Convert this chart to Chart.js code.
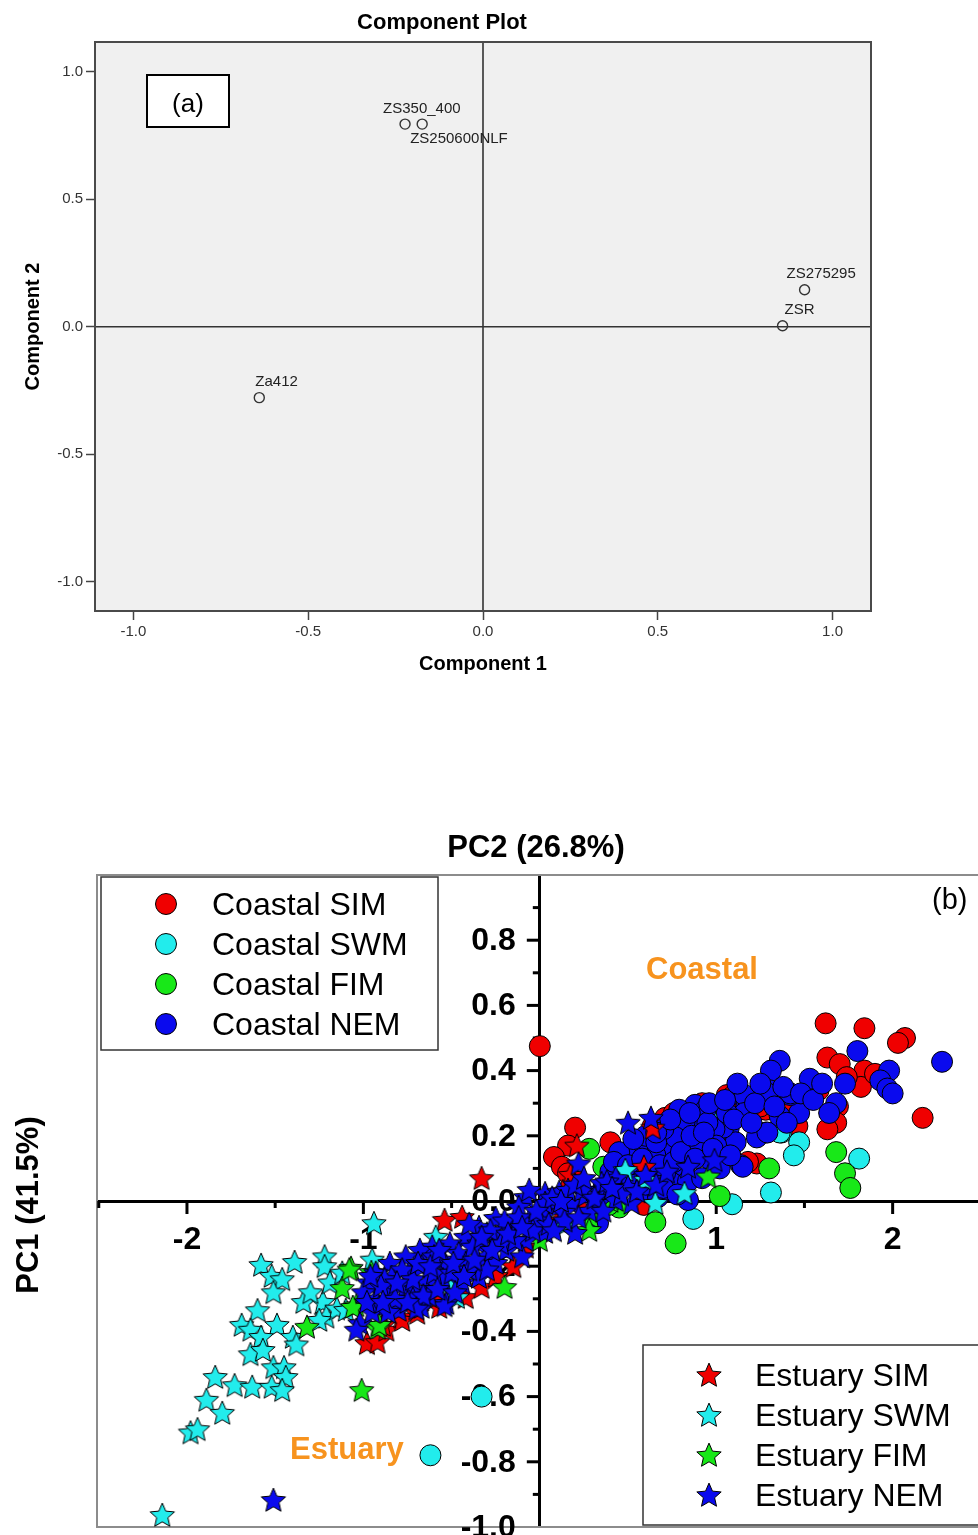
<!DOCTYPE html>
<html><head><meta charset="utf-8">
<script src="https://cdn.jsdelivr.net/npm/chart.js@4.4.0/dist/chart.umd.min.js"></script>
<style>
html,body{margin:0;padding:0;background:#fff;width:978px;height:1535px;overflow:hidden;position:relative;}
#ca{position:absolute;left:0;top:0;}
#cb{position:absolute;left:0;top:820px;}
</style></head><body>
<canvas id="ca" width="884" height="700" style="width:884px;height:700px"></canvas>
<canvas id="cb" width="1010" height="740" style="width:1010px;height:740px"></canvas>
<script>
// ================= Chart (a) data =================
const loadingNames = ['ZS350_400','ZS250600NLF','ZS275295','ZSR','Za412'];
const component1 = [-0.223,-0.174,0.920,0.857,-0.640];
const component2 = [0.795,0.795,0.145,0.004,-0.278];
const axisTicksA = [-1.0,-0.5,0.0,0.5,1.0];

// ================= Chart (b) data =================
const seriesNames = ['Coastal SIM','Coastal SWM','Coastal FIM','Coastal NEM','Estuary SIM','Estuary SWM','Estuary FIM','Estuary NEM'];
const xTickLabelsB = [-2,-1,1,2];
const yTickLabelsB = [0.8,0.6,0.4,0.2,0.0,-0.2,-0.4,-0.6,-0.8,-1.0];

const coastalSIM = [[0.00,0.475],[1.62,0.545],[1.84,0.53],[2.07,0.50],[2.03,0.485],[1.63,0.44],[1.70,0.42],[1.84,0.40],[1.82,0.35],[1.58,0.34],[1.50,0.31],[1.69,0.29],[1.68,0.24],[1.63,0.22],[2.17,0.255],[1.06,0.325],[1.09,0.32],[1.28,0.28],[1.46,0.23],[1.23,0.115],[0.71,0.255],[0.64,0.23],[0.40,0.18],[0.20,0.225],[0.16,0.17],[0.08,0.135],[0.125,0.105],[0.16,0.085],[0.59,-0.012],[1.74,0.38],[1.90,0.39],[1.25,0.29],[0.92,0.30],[1.00,0.25],[0.55,0.10],[0.76,0.27],[1.40,0.30],[1.18,0.12]];
const coastalSWM = [[1.02,0.285],[1.37,0.21],[1.47,0.18],[1.44,0.14],[1.81,0.13],[1.31,0.026],[1.09,-0.01],[0.87,-0.055],[-0.33,-0.60],[-0.62,-0.78],[1.36,0.21]];
const coastalFIM = [[0.28,0.16],[0.36,0.105],[1.02,0.015],[1.30,0.10],[0.655,-0.065],[0.45,-0.02],[1.68,0.15],[1.73,0.085],[1.76,0.04],[0.77,-0.13],[0.39,-0.012]];
const coastalNEM = [[2.28,0.427],[1.80,0.46],[1.98,0.40],[1.93,0.37],[1.97,0.345],[2.00,0.33],[1.36,0.43],[1.31,0.40],[1.53,0.375],[1.73,0.36],[1.68,0.30],[1.47,0.27],[1.30,0.34],[1.42,0.325],[1.15,0.32],[1.17,0.29],[1.13,0.26],[1.28,0.21],[1.07,0.22],[1.11,0.18],[0.88,0.295],[0.79,0.28],[0.94,0.28],[1.04,0.225],[0.88,0.23],[0.82,0.24],[0.73,0.16],[0.56,0.165],[0.49,0.14],[0.655,0.14],[0.89,0.18],[0.99,0.22],[1.14,0.11],[1.23,0.195],[0.82,0.105],[0.97,0.125],[0.75,0.055],[0.84,0.003],[0.71,0.085],[0.63,0.08],[0.56,0.085],[0.43,0.065],[0.62,0.025],[0.67,0.012],[0.45,0.15],[0.77,0.195],[0.90,0.18],[1.15,0.105],[0.46,0.10],[0.33,-0.068],[1.16,0.325],[1.16,0.27],[1.36,0.26],[1.29,0.33],[1.42,0.33],[1.29,0.21],[0.52,0.05],[0.38,0.02],[0.60,0.20],[0.70,0.22],[1.00,0.17],[1.06,0.27],[0.95,0.24],[0.66,0.18],[0.84,0.06],[0.36,0.04],[0.40,0.09],[0.42,0.12],[0.50,0.11],[0.53,0.19],[0.58,0.13],[0.60,0.05],[0.66,0.21],[0.68,0.11],[0.70,0.04],[0.74,0.25],[0.76,0.12],[0.78,0.02],[0.80,0.15],[0.85,0.27],[0.86,0.20],[0.88,0.13],[0.92,0.07],[0.93,0.21],[0.96,0.30],[0.98,0.16],[1.02,0.10],[1.05,0.31],[1.08,0.14],[1.10,0.25],[1.12,0.36],[1.20,0.24],[1.22,0.30],[1.25,0.36],[1.33,0.29],[1.38,0.35],[1.40,0.24],[1.48,0.33],[1.55,0.31],[1.60,0.36],[1.64,0.27]];
const estuarySIM = [[-0.33,0.07],[-0.54,-0.058],[-0.44,-0.049],[0.21,0.17],[0.64,0.225],[0.59,0.105],[0.175,0.08],[0.24,-0.02],[-0.98,-0.436],[-0.92,-0.432],[-0.87,-0.395],[-0.785,-0.355],[-0.695,-0.343],[-0.78,-0.365],[-0.42,-0.295],[-0.08,-0.14],[-0.33,-0.264],[-0.57,-0.325],[-0.89,-0.38],[0.13,0.03],[-0.15,-0.20],[-0.60,-0.30],[0.10,-0.06],[-0.25,-0.23]];
const estuarySWM = [[-0.94,-0.068],[-1.58,-0.196],[-1.39,-0.187],[-1.22,-0.17],[-1.22,-0.20],[-1.52,-0.23],[-1.46,-0.24],[-1.51,-0.28],[-1.34,-0.31],[-1.23,-0.31],[-1.21,-0.355],[-1.19,-0.25],[-1.60,-0.335],[-1.69,-0.38],[-1.64,-0.395],[-1.49,-0.38],[-1.58,-0.417],[-1.40,-0.417],[-1.38,-0.44],[-1.64,-0.47],[-1.57,-0.457],[-1.51,-0.51],[-1.45,-0.51],[-1.44,-0.54],[-1.84,-0.54],[-1.73,-0.565],[-1.63,-0.57],[-1.52,-0.57],[-1.46,-0.58],[-1.89,-0.61],[-1.80,-0.65],[-1.98,-0.71],[-1.94,-0.70],[-2.14,-0.963],[-1.15,-0.33],[-1.25,-0.365],[-0.47,-0.295],[-0.59,-0.11],[-0.51,-0.25],[0.15,-0.068],[-1.10,-0.334],[-0.95,-0.18],[0.485,0.095],[0.60,0.065],[0.655,-0.006],[0.82,0.024],[0.125,-0.068],[-1.30,-0.28],[-1.12,-0.22]];
const estuaryFIM = [[-1.07,-0.205],[-0.955,-0.218],[-1.12,-0.267],[-1.04,-0.32],[-1.32,-0.386],[-0.92,-0.39],[-1.01,-0.58],[-0.20,-0.264],[-1.08,-0.21],[-1.06,-0.325],[-0.91,-0.38],[0.955,0.075],[0.29,-0.05],[0.28,-0.089],[0.125,0.003],[0.00,-0.12],[0.40,0.00],[-0.30,-0.10]];
const estuaryNEM = [[-0.08,0.012],[0.03,0.024],[0.11,0.028],[-0.12,-0.018],[-0.25,-0.052],[-0.345,-0.08],[-0.42,-0.11],[-0.51,-0.13],[-0.61,-0.14],[-0.68,-0.15],[-0.76,-0.17],[-0.85,-0.19],[-0.93,-0.22],[-0.84,-0.233],[-0.74,-0.22],[-0.67,-0.20],[-0.55,-0.18],[-0.46,-0.16],[-0.345,-0.13],[-0.25,-0.11],[-0.16,-0.09],[-0.06,-0.058],[0.01,-0.037],[0.09,-0.018],[0.18,-0.006],[0.03,-0.095],[-0.08,-0.12],[-0.19,-0.15],[-0.305,-0.17],[-0.42,-0.19],[-0.53,-0.20],[-0.345,-0.233],[-0.44,-0.25],[-0.55,-0.24],[-0.64,-0.25],[-0.76,-0.264],[-0.85,-0.28],[-0.93,-0.30],[-0.53,-0.313],[-0.67,-0.325],[-0.91,-0.325],[-1.02,-0.375],[-0.80,-0.334],[-1.04,-0.395],[-1.51,-0.917],[-0.54,-0.32],[0.50,0.24],[0.63,0.255],[0.22,0.115],[0.43,0.07],[0.50,0.043],[0.33,0.034],[0.26,0.018],[0.16,0.034],[0.03,-0.006],[0.135,-0.033],[0.33,-0.006],[0.43,0.003],[0.52,-0.006],[0.84,0.105],[0.99,0.125],[-0.06,0.034],[0.24,0.034],[0.35,0.055],[0.20,-0.098],[-0.97,-0.25],[-0.88,-0.24],[-0.70,-0.27],[-0.60,-0.22],[-0.20,-0.06],[-0.40,-0.07],[0.00,-0.06],[-0.10,-0.17],[-0.25,-0.19],[-1.00,-0.28],[-0.95,-0.34],[-0.72,-0.30],[-0.63,-0.29],[-0.98,-0.31],[-0.90,-0.26],[-0.82,-0.30],[-0.78,-0.21],[-0.72,-0.24],[-0.66,-0.29],[-0.60,-0.17],[-0.58,-0.27],[-0.50,-0.22],[-0.48,-0.28],[-0.40,-0.21],[-0.38,-0.14],[-0.30,-0.21],[-0.28,-0.09],[-0.22,-0.13],[-0.14,-0.12],[-0.12,-0.05],[-0.04,-0.09],[0.05,-0.07],[0.07,0.01],[0.14,-0.06],[0.20,0.05],[0.28,-0.03],[0.38,0.06],[0.46,0.02],[-0.86,-0.34],[-0.70,-0.33],[-0.96,-0.23],[-0.89,-0.31],[-0.81,-0.25],[-0.75,-0.31],[-0.69,-0.19],[-0.62,-0.20],[-0.57,-0.15],[-0.49,-0.19],[-0.43,-0.23],[-0.37,-0.18],[-0.33,-0.11],[-0.27,-0.15],[-0.18,-0.10],[-0.10,-0.08],[-0.02,-0.03],[0.08,-0.09],[0.12,0.00],[0.22,-0.05],[0.25,0.07],[0.31,0.01],[0.36,-0.03],[0.41,0.04],[0.55,0.03],[0.60,0.08],[0.66,0.05],[0.72,0.09]];

const seriesColors = ['#f00000','#22ecec','#18e818','#0a0aee','#f00000','#22ecec','#18e818','#0a0aee'];
const seriesPoints = [coastalSIM,coastalSWM,coastalFIM,coastalNEM,estuarySIM,estuarySWM,estuaryFIM,estuaryNEM];
const seriesStar = [false,false,false,false,true,true,true,true];
const seriesOrder = [8,7,6,5,4,3,2,1];

const FONT = '"Liberation Sans", Arial, Helvetica, sans-serif';
Chart.defaults.font.family = FONT;

function makeStar(color, size, outerR, innerR) {
  const c = document.createElement('canvas');
  c.width = size; c.height = size;
  const g = c.getContext('2d');
  const cx = size / 2, cy = size / 2 + 0.9;
  g.beginPath();
  for (let i = 0; i < 10; i++) {
    const r = i % 2 ? innerR : outerR;
    const a = -Math.PI / 2 + i * Math.PI / 5;
    const px = cx + r * Math.cos(a), py = cy + r * Math.sin(a);
    if (i) g.lineTo(px, py); else g.moveTo(px, py);
  }
  g.closePath();
  g.fillStyle = color; g.fill();
  g.lineWidth = 1; g.strokeStyle = '#000'; g.lineJoin = 'miter'; g.stroke();
  return c;
}

// ================= Chart (a) =================
const decorA = {
  id: 'decorA',
  beforeDraw(chart) {
    const {ctx, chartArea: a} = chart;
    ctx.save();
    ctx.fillStyle = '#f0f0f0';
    ctx.fillRect(a.left, a.top, a.right - a.left, a.bottom - a.top);
    ctx.restore();
  },
  beforeDatasetsDraw(chart) {
    const {ctx, chartArea: a, scales: {x, y}} = chart;
    ctx.save();
    ctx.strokeStyle = '#333'; ctx.lineWidth = 1.6;
    const x0 = x.getPixelForValue(0), y0 = y.getPixelForValue(0);
    ctx.beginPath(); ctx.moveTo(x0, a.top); ctx.lineTo(x0, a.bottom); ctx.stroke();
    ctx.beginPath(); ctx.moveTo(a.left, y0); ctx.lineTo(a.right, y0); ctx.stroke();
    ctx.restore();
  },
  afterDraw(chart) {
    const {ctx, chartArea: a} = chart;
    ctx.save();
    ctx.strokeStyle = '#4a4a4a'; ctx.lineWidth = 2;
    ctx.strokeRect(a.left, a.top, a.right - a.left, a.bottom - a.top);
    ctx.fillStyle = '#fff'; ctx.fillRect(147, 75, 82, 52);
    ctx.strokeStyle = '#000'; ctx.lineWidth = 2; ctx.strokeRect(147, 75, 82, 52);
    ctx.fillStyle = '#000'; ctx.font = '26px ' + FONT; ctx.textAlign = 'center'; ctx.textBaseline = 'alphabetic';
    ctx.fillText('(a)', 188, 112);
    const offs = [[-22, -11], [-12, 19], [-18, -12], [2, -12], [-4, -12]];
    ctx.font = '15px ' + FONT; ctx.textAlign = 'left'; ctx.fillStyle = '#222';
    const meta = chart.getDatasetMeta(0);
    meta.data.forEach((pt, i) => {
      ctx.fillText(loadingNames[i], pt.x + offs[i][0], pt.y + offs[i][1]);
    });
    ctx.restore();
  }
};

new Chart(document.getElementById('ca'), {
  type: 'scatter',
  data: {
    datasets: [{
      label: 'Loadings',
      data: component1.map((v, i) => ({x: v, y: component2[i]})),
      pointRadius: 5, pointBorderWidth: 1.4,
      pointBorderColor: '#333', pointBackgroundColor: 'rgba(0,0,0,0)'
    }]
  },
  options: {
    responsive: false, animation: false,
    layout: {padding: {left: 13, right: 13, top: 0, bottom: 0}},
    plugins: {
      legend: {display: false}, tooltip: {enabled: false},
      title: {display: true, text: 'Component Plot', color: '#000', font: {size: 22, weight: 'bold'}, padding: {top: 10, bottom: 5.6}}
    },
    scales: {
      x: {
        type: 'linear', min: -1.11, max: 1.11,
        afterBuildTicks: s => { s.ticks = axisTicksA.map(v => ({value: v})); },
        afterFit: s => { s.height = 89; },
        grid: {drawOnChartArea: false, drawTicks: true, tickLength: 9, tickColor: '#444', tickWidth: 1.5},
        border: {display: false},
        ticks: {autoSkip: false, maxRotation: 0, color: '#333', font: {size: 15}, padding: 3,
          callback: v => (Math.abs(v) < 1e-9 ? 0 : v).toFixed(1)},
        title: {display: true, text: 'Component 1', color: '#000', font: {size: 20, weight: 'bold'}, padding: {top: 0, bottom: 24}}
      },
      y: {
        type: 'linear', min: -1.115, max: 1.117,
        afterBuildTicks: s => { s.ticks = axisTicksA.map(v => ({value: v})); },
        afterFit: s => { s.width = 82; },
        grid: {drawOnChartArea: false, drawTicks: true, tickLength: 9, tickColor: '#444', tickWidth: 1.5},
        border: {display: false},
        ticks: {autoSkip: false, color: '#333', font: {size: 15}, padding: 3,
          callback: v => (Math.abs(v) < 1e-9 ? 0 : v).toFixed(1)},
        title: {display: true, text: 'Component 2', color: '#000', font: {size: 20, weight: 'bold'}, padding: {top: 8, bottom: 0}}
      }
    }
  },
  plugins: [decorA]
});

// ================= Chart (b) =================
const datasetsB = seriesNames.map((name, i) => ({
  label: name,
  data: seriesPoints[i].map(p => ({x: p[0], y: p[1]})),
  order: seriesOrder[i],
  pointStyle: seriesStar[i] ? makeStar(seriesColors[i], 30, 12.8, 5.9) : 'circle',
  pointRadius: 10.5,
  pointBorderWidth: 1,
  pointBorderColor: '#000',
  pointBackgroundColor: seriesColors[i],
  showLine: false
}));

const decorB = {
  id: 'decorB',
  beforeDatasetsDraw(chart) {
    const {ctx, chartArea: a, scales: {x, y}} = chart;
    ctx.save();
    ctx.strokeStyle = '#8c8c8c'; ctx.lineWidth = 2;
    ctx.strokeRect(a.left, a.top, a.right - a.left, a.bottom - a.top);
    ctx.strokeStyle = '#000'; ctx.lineWidth = 3;
    const y0 = y.getPixelForValue(0), x0 = x.getPixelForValue(0);
    x.ticks.forEach(t => {
      const v = t.value;
      if (Math.abs(v) < 1e-9 || v <= x.min + 1e-6 || v >= x.max - 1e-6) return;
      const major = Math.abs(v - Math.round(v)) < 1e-6;
      const px = x.getPixelForValue(v);
      ctx.beginPath(); ctx.moveTo(px, y0); ctx.lineTo(px, y0 + (major ? 13 : 7)); ctx.stroke();
    });
    y.ticks.forEach(t => {
      const v = t.value;
      if (Math.abs(v) < 1e-9 || v <= y.min + 1e-6 || v >= y.max - 1e-6) return;
      const major = Math.round(Math.abs(v) * 10) % 2 === 0;
      const py = y.getPixelForValue(v);
      ctx.beginPath(); ctx.moveTo(x0, py); ctx.lineTo(x0 - (major ? 13 : 7), py); ctx.stroke();
    });
    ctx.fillStyle = '#000'; ctx.font = 'bold 32px ' + FONT;
    ctx.textAlign = 'right'; ctx.textBaseline = 'middle';
    y.ticks.forEach(t => {
      if (!t.label) return;
      ctx.fillText(t.label, x0 - 24, y.getPixelForValue(t.value) + 1);
    });
    ctx.restore();
  },
  afterDatasetsDraw(chart) {
    const {ctx} = chart;
    const ds = chart.data.datasets;
    ctx.save();
    ctx.fillStyle = '#fff'; ctx.fillRect(101, 57, 337, 173);
    ctx.strokeStyle = '#333'; ctx.lineWidth = 1.5; ctx.strokeRect(101, 57, 337, 173);
    ctx.font = '32px ' + FONT; ctx.textAlign = 'left'; ctx.textBaseline = 'alphabetic';
    for (let i = 0; i < 4; i++) {
      const cy = 84 + i * 40;
      ctx.beginPath(); ctx.arc(166, cy, 10.5, 0, Math.PI * 2);
      ctx.fillStyle = ds[i].pointBackgroundColor; ctx.fill();
      ctx.lineWidth = 1; ctx.strokeStyle = '#000'; ctx.stroke();
      ctx.fillStyle = '#000'; ctx.fillText(ds[i].label, 212, cy + 11);
    }
    ctx.fillStyle = '#fff'; ctx.fillRect(643, 525, 400, 180);
    ctx.strokeStyle = '#333'; ctx.lineWidth = 1.5; ctx.strokeRect(643, 525, 400, 180);
    for (let i = 4; i < 8; i++) {
      const cy = 555 + (i - 4) * 40;
      ctx.drawImage(ds[i].pointStyle, 709 - 15, cy - 15, 30, 30);
      ctx.fillStyle = '#000'; ctx.fillText(ds[i].label, 755, cy + 11);
    }
    ctx.fillStyle = '#f7931e'; ctx.font = 'bold 31px ' + FONT;
    ctx.fillText('Coastal', 646, 159);
    ctx.fillText('Estuary', 290, 639);
    ctx.fillStyle = '#000'; ctx.font = '29px ' + FONT;
    ctx.fillText('(b)', 932, 89);
    ctx.font = 'bold 31px ' + FONT; ctx.textAlign = 'center';
    ctx.fillText('PC2 (26.8%)', 536, 37);
    ctx.translate(38, 385); ctx.rotate(-Math.PI / 2);
    ctx.fillText('PC1 (41.5%)', 0, 0);
    ctx.restore();
  }
};

new Chart(document.getElementById('cb'), {
  type: 'scatter',
  data: {datasets: datasetsB},
  options: {
    responsive: false, animation: false,
    layout: {padding: {left: 97, right: 10, top: 55, bottom: 33}},
    plugins: {legend: {display: false}, tooltip: {enabled: false}, title: {display: false}},
    scales: {
      x: {
        type: 'linear', min: -2.51, max: 2.6, position: {y: 0},
        ticks: {stepSize: 0.5, includeBounds: false, maxTicksLimit: 100, autoSkip: false, maxRotation: 0,
          color: '#000', font: {size: 32, weight: 'bold'}, padding: 8,
          callback: v => xTickLabelsB.some(t => Math.abs(t - v) < 1e-6) ? String(Math.round(v)) : ''},
        grid: {drawOnChartArea: false, drawTicks: true, tickLength: 12, tickColor: 'rgba(0,0,0,0)'},
        border: {display: true, color: '#000', width: 3}
      },
      y: {
        type: 'linear', min: -1, max: 1, position: {x: 0},
        ticks: {stepSize: 0.1, includeBounds: false, maxTicksLimit: 100, autoSkip: false,
          color: 'rgba(0,0,0,0)', font: {size: 32, weight: 'bold'}, padding: 12,
          callback: v => yTickLabelsB.some(t => Math.abs(t - v) < 1e-6) ? (Math.abs(v) < 1e-9 ? 0 : v).toFixed(1) : ''},
        grid: {drawOnChartArea: false, drawTicks: true, tickLength: 12, tickColor: 'rgba(0,0,0,0)'},
        border: {display: true, color: '#000', width: 3}
      }
    }
  },
  plugins: [decorB]
});
</script></body></html>
